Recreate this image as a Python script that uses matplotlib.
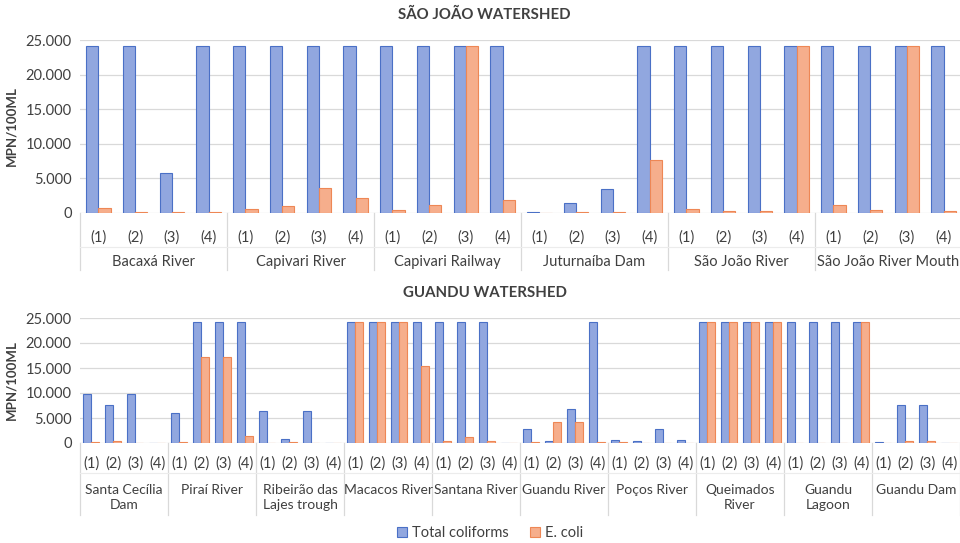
import numpy as np
import matplotlib
matplotlib.use("Agg")
import matplotlib.pyplot as plt
from matplotlib.ticker import FuncFormatter
import matplotlib.transforms as mtransforms

plt.rcParams["font.family"] = ["Lato", "DejaVu Sans"]

# Sao Joao watershed
sj_sites = ["Bacaxá River", "Capivari River", "Capivari Railway",
            "Juturnaíba Dam", "São João River", "São João River Mouth"]
sj_total = [24196, 24196, 5800, 24196,
            24196, 24196, 24196, 24196,
            24196, 24196, 24196, 24196,
            100, 1500, 3450, 24196,
            24196, 24196, 24196, 24196,
            24196, 24196, 24196, 24196]
sj_ecoli = [700, 150, 150, 150,
            600, 1000, 3600, 2200,
            450, 1200, 24196, 1900,
            0, 100, 100, 7600,
            600, 300, 250, 24196,
            1150, 500, 24196, 250]

# Guandu watershed
gu_sites = ["Santa Cecília\nDam", "Piraí River", "Ribeirão das\nLajes trough",
            "Macacos River", "Santana River", "Guandu River", "Poços River",
            "Queimados\nRiver", "Guandu\nLagoon", "Guandu Dam"]
gu_total = [9850, 7700, 9850, 100,
            6100, 24196, 24196, 24196,
            6500, 900, 6500, 100,
            24196, 24196, 24196, 24196,
            24196, 24196, 24196, 100,
            2900, 500, 6900, 24196,
            700, 400, 2900, 600,
            24196, 24196, 24196, 24196,
            24196, 24196, 24196, 24196,
            300, 7700, 7700, 100]
gu_ecoli = [200, 450, 100, 0,
            200, 17300, 17300, 1500,
            0, 200, 100, 0,
            24196, 24196, 24196, 15500,
            400, 1250, 400, 0,
            150, 4300, 4300, 300,
            150, 0, 100, 0,
            24196, 24196, 24196, 24196,
            100, 100, 100, 24196,
            100, 450, 450, 100]

samples = ["(1)", "(2)", "(3)", "(4)"]

BLUE_FACE = "#91a7df"
BLUE_EDGE = "#4a70c6"
ORANGE_FACE = "#f6ae8c"
ORANGE_EDGE = "#ee8755"
GRID = "#d9d9d9"
TXT = "#404040"


def fmt(v, pos):
    return f"{int(v):,}".replace(",", ".")


def draw_panel(ax, sites, total, ecoli, width, tick_y, sub_y, group_y, sep_y, fs, gfs):
    n = len(total)
    x = np.arange(n)
    ax.bar(x - width / 2, total, width, color=BLUE_FACE, edgecolor=BLUE_EDGE,
           linewidth=0.8, label="Total coliforms", zorder=3)
    ax.bar(x + width / 2, ecoli, width, color=ORANGE_FACE, edgecolor=ORANGE_EDGE,
           linewidth=0.8, label="E. coli", zorder=3)
    ax.set_xlim(-0.5, n - 0.5)
    ax.set_ylim(0, 25000)
    ax.set_yticks(np.arange(0, 25001, 5000))
    ax.yaxis.set_major_formatter(FuncFormatter(fmt))
    ax.grid(axis="y", color=GRID, linewidth=0.9, zorder=0)
    for s in ax.spines.values():
        s.set_visible(False)
    ax.tick_params(axis="y", length=0, labelsize=10.5, labelcolor=TXT, pad=6)
    ax.set_xticks([])
    ax.set_ylabel("MPN/100ML", fontsize=9.5, fontweight="bold", color=TXT, labelpad=6)

    tr = mtransforms.blended_transform_factory(ax.transData, ax.transAxes)
    for i in range(n):
        ax.text(i, tick_y, samples[i % 4], transform=tr, ha="center", va="center",
                fontsize=fs, color=TXT)
    for g, name in enumerate(sites):
        ax.text(g * 4 + 1.5, group_y, name, transform=tr, ha="center", va="top",
                fontsize=gfs, color=TXT, linespacing=1.3)
    for g in range(len(sites) + 1):
        ax.plot([g * 4 - 0.5] * 2, [0, sep_y], transform=tr, color=GRID,
                linewidth=0.9, clip_on=False)
    ax.plot([-0.5, n - 0.5], [sub_y, sub_y], transform=tr, color="#ececec",
            linewidth=0.8, clip_on=False)


fig = plt.figure(figsize=(9.6, 5.43), dpi=100)

ax1 = fig.add_axes([80 / 960, 1 - 213 / 543, 882 / 960, 173 / 543])
draw_panel(ax1, sj_sites, sj_total, sj_ecoli, 0.33,
           tick_y=-0.139, sub_y=-0.197, group_y=-0.24, sep_y=-0.33, fs=10.5, gfs=10.5)
fig.text(484 / 960, 1 - 15 / 543, "SÃO JOÃO WATERSHED", ha="center", va="center",
         fontsize=10.8, fontweight="bold", color=TXT)

ax2 = fig.add_axes([80 / 960, 1 - 443 / 543, 880 / 960, 125 / 543])
draw_panel(ax2, gu_sites, gu_total, gu_ecoli, 0.35,
           tick_y=-0.168, sub_y=-0.24, group_y=-0.33, sep_y=-0.576, fs=10.5, gfs=10)
fig.text(485 / 960, 1 - 293 / 543, "GUANDU WATERSHED", ha="center", va="center",
         fontsize=10.8, fontweight="bold", color=TXT)

handles, labels = ax2.get_legend_handles_labels()
fig.legend(handles, labels, loc="center", bbox_to_anchor=(490 / 960, 1 - 533 / 543),
           ncol=2, frameon=False, fontsize=10.5, handlelength=0.7, handleheight=0.7,
           handletextpad=0.3, columnspacing=1.5, labelcolor=TXT)

fig.savefig("out.png", dpi=100, facecolor="white")
